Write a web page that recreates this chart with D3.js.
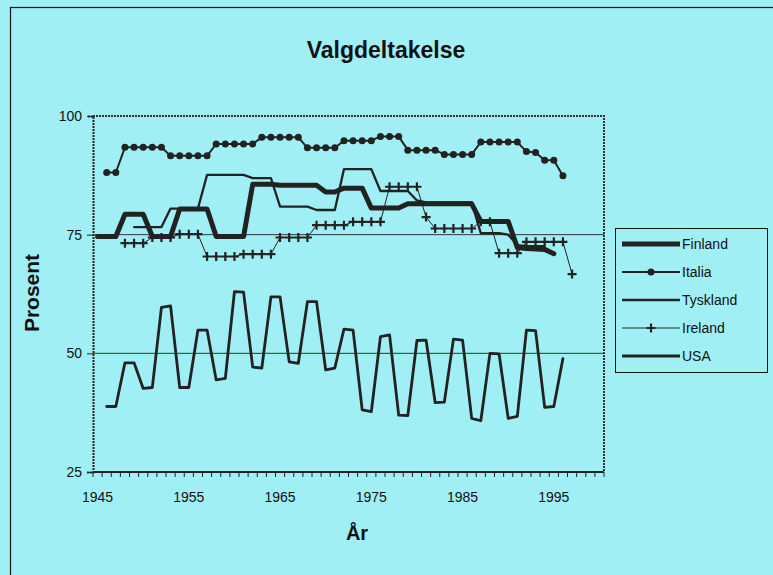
<!DOCTYPE html>
<html><head><meta charset="utf-8">
<script src="https://cdn.jsdelivr.net/npm/d3@7"></script>
<style>
html,body{margin:0;padding:0;background:#a0eff5;}
svg{display:block;font-family:"Liberation Sans",Arial,sans-serif;}
</style></head>
<body>
<svg id="c" width="773" height="575"></svg>
<script>
// ---- data ----
const chartTitle = "Valgdeltakelse";
const yTitle = "Prosent";
const xTitle = "År";
const categories = d3.range(1945, 2001);            // category axis 1945..2000
const xTickLabels = ["1945","1955","1965","1975","1985","1995"];
const yTickValues = [25, 50, 75, 100];
const seriesNames = ["Finland","Italia","Tyskland","Ireland","USA"];

const finlandStart = 1945;
const finland = [74.6,74.6,74.6, 79.3,79.3,79.3, 74.6,74.6,74.6, 80.4,80.4,80.4,80.4,
  74.6,74.6,74.6,74.6, 85.6,85.6,85.6, 85.4,85.4,85.4,85.4,85.4, 84.0,84.0,
  84.8,84.8,84.8, 80.6,80.6,80.6,80.6, 81.5,81.5,81.5,81.5,81.5,81.5,81.5,81.5,
  77.8,77.8,77.8,77.8, 72.3,72.1,72.0,71.9,71.0];

const italiaStart = 1946;
const italia = [88.1,88.1, 93.4,93.4,93.4,93.4,93.4, 91.6,91.6,91.6,91.6,91.6,
  94.1,94.1,94.1,94.1,94.1, 95.5,95.5,95.5,95.5,95.5, 93.3,93.3,93.3,93.3,
  94.8,94.8,94.8,94.8, 95.7,95.7,95.7, 92.8,92.8,92.8,92.8, 91.9,91.9,91.9,91.9,
  94.5,94.5,94.5,94.5,94.5, 92.5,92.3, 90.7,90.7, 87.4];

const tysklandStart = 1949;
const tyskland = [76.6,76.6,76.6,76.6, 80.5,80.5,80.5,80.5, 87.6,87.6,87.6,87.6,87.6,
  86.9,86.9,86.9, 80.9,80.9,80.9,80.9, 80.2,80.2,80.2, 88.8,88.8,88.8,88.8,
  84.2,84.2,84.2,84.2, 82.2, 81.8,81.8,81.8,81.8,81.8,81.8, 75.3,75.3,75.3,75.0,
  72.8,72.6,72.6,72.6];

const irelandStart = 1948;
const ireland = [73.2,73.2,73.2, 74.4,74.4,74.4, 75.1,75.1,75.1, 70.4,70.4,70.4,70.4,
  70.9,70.9,70.9,70.9, 74.4,74.4,74.4,74.4, 77.0,77.0,77.0,77.0, 77.7,77.7,77.7,77.7,
  85.1,85.1,85.1,85.1, 78.7, 76.3,76.3,76.3,76.3,76.3, 77.7,77.7, 71.1,71.1,71.1,
  73.5,73.5,73.5,73.5,73.5, 66.7];

const usaStart = 1946;
const usa = [38.8,38.8, 48.0,48.0, 42.6,42.8, 59.7,60.0, 42.8,42.8, 54.9,54.9,
  44.4,44.7, 63.0,62.9, 47.1,46.9, 61.9,61.9, 48.2,47.9, 60.9,60.9, 46.5,46.9,
  55.1,54.9, 38.1,37.7, 53.5,53.9, 37.0,36.9, 52.7,52.8, 39.6,39.7, 53.0,52.8,
  36.3,35.8, 50.0,49.9, 36.3,36.7, 54.9,54.8, 38.6,38.8, 48.9];

// ---- drawing ----
const ink = "#222";
const svg = d3.select("#c");

// chart area border
svg.append("rect").attr("x",10.5).attr("y",7.5).attr("width",800).attr("height",600)
  .attr("fill","none").attr("stroke","#111").attr("stroke-width",1.2);

const plot = {left:93, right:604, top:116, bottom:472};
const x = d3.scaleBand().domain(categories).range([plot.left, plot.right]).paddingInner(0).paddingOuter(0);
const xc = yr => x(yr) + x.bandwidth()/2;
const y = d3.scaleLinear().domain([25,100]).range([plot.bottom, plot.top]);

// title
svg.append("text").attr("x",386).attr("y",58).attr("text-anchor","middle")
  .attr("font-size",23).attr("font-weight","bold").attr("fill","#111").text(chartTitle);

// gridlines
svg.append("g").selectAll("line").data([50,75]).join("line")
  .attr("x1",plot.left).attr("x2",plot.right)
  .attr("y1",d=>y(d)).attr("y2",d=>y(d))
  .attr("stroke","#333").attr("stroke-width",1);

// plot border (top & right)
svg.append("path")
  .attr("d",`M${plot.left},${plot.top}H${plot.right}V${plot.bottom}`)
  .attr("fill","none").attr("stroke","#333").attr("stroke-width",2).attr("stroke-dasharray","2 1");

// y axis
const yAxis = d3.axisLeft(y).tickValues(yTickValues).tickSize(6).tickPadding(5).tickFormat(d3.format("d"));
const gy = svg.append("g").attr("transform",`translate(${plot.left},0)`).call(yAxis);
gy.select(".domain").attr("stroke","#222").attr("stroke-width",2).attr("stroke-dasharray","2 1");
gy.selectAll(".tick line").attr("stroke","#222").attr("stroke-width",1);
gy.selectAll("text").attr("font-size",14).attr("fill","#111").attr("font-family","Liberation Sans, Arial, sans-serif");

// x axis: ticks at every category boundary, labels every 10 years
const gx = svg.append("g").attr("transform",`translate(0,${plot.bottom})`);
gx.append("line").attr("x1",plot.left).attr("x2",plot.right).attr("stroke","#222").attr("stroke-width",2);
const bounds = categories.map(c => x(c)).concat([plot.right]);
gx.selectAll("line.tk").data(bounds).join("line").attr("class","tk")
  .attr("x1",d=>d).attr("x2",d=>d).attr("y1",0).attr("y2",5).attr("stroke","#222").attr("stroke-width",1);
gx.selectAll("text").data(xTickLabels).join("text")
  .attr("x",d=>xc(+d)).attr("y",30).attr("text-anchor","middle")
  .attr("font-size",14).attr("fill","#111").text(d=>d);

// axis titles
svg.append("text").attr("transform","translate(39,293) rotate(-90)").attr("text-anchor","middle")
  .attr("font-size",21).attr("font-weight","bold").attr("fill","#111").text(yTitle);
svg.append("text").attr("x",357).attr("y",540).attr("text-anchor","middle")
  .attr("font-size",20).attr("font-weight","bold").attr("fill","#111").text(xTitle);

// series
const toPts = (start, vals) => vals.map((v,i)=>({yr:start+i, v}));
const line = d3.line().x(d=>xc(d.yr)).y(d=>y(d.v));
const series = [
  {name:"Finland", pts:toPts(finlandStart,finland), w:5, marker:null},
  {name:"Italia", pts:toPts(italiaStart,italia), w:2, marker:"circle"},
  {name:"Tyskland", pts:toPts(tysklandStart,tyskland), w:2.3, marker:null},
  {name:"Ireland", pts:toPts(irelandStart,ireland), w:1, marker:"plus"},
  {name:"USA", pts:toPts(usaStart,usa), w:2.8, marker:null}
];
const gs = svg.append("g");
function drawMarker(g, kind, cx, cy){
  if(kind==="circle"){
    g.append("circle").attr("cx",cx).attr("cy",cy).attr("r",3.5).attr("fill",ink);
  } else if(kind==="plus"){
    g.append("path").attr("d",`M${cx-4.5},${cy}H${cx+4.5}M${cx},${cy-4.5}V${cy+4.5}`)
      .attr("stroke",ink).attr("stroke-width",2.2).attr("fill","none");
  }
}
series.forEach(s=>{
  const g = gs.append("g");
  g.append("path").attr("d",line(s.pts)).attr("fill","none").attr("stroke",ink)
    .attr("stroke-width",s.w).attr("stroke-linejoin","round").attr("stroke-linecap","round");
  if(s.marker) s.pts.forEach(p=>drawMarker(g, s.marker, xc(p.yr), y(p.v)));
});

// legend
const lg = svg.append("g");
lg.append("rect").attr("x",615.5).attr("y",228.5).attr("width",152).attr("height",144)
  .attr("fill","none").attr("stroke","#111").attr("stroke-width",1);
series.forEach((s,i)=>{
  const ly = 244 + i*28;
  lg.append("line").attr("x1",622).attr("x2",680).attr("y1",ly).attr("y2",ly)
    .attr("stroke",ink).attr("stroke-width",s.w);
  if(s.marker) drawMarker(lg, s.marker, 651, ly);
  lg.append("text").attr("x",682).attr("y",ly+5).attr("font-size",14).attr("fill","#111").text(seriesNames[i]);
});
</script>
</body></html>
